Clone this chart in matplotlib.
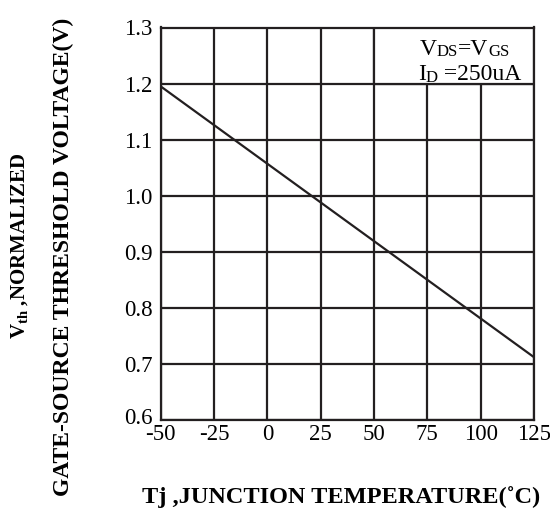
import matplotlib
matplotlib.use("Agg")
import matplotlib.pyplot as plt
from matplotlib.patches import Rectangle
from matplotlib.transforms import ScaledTranslation

plt.rcParams['font.family'] = ['Liberation Serif', 'DejaVu Serif']
plt.rcParams['mathtext.fontset'] = 'custom'
plt.rcParams['mathtext.rm'] = 'Liberation Serif'
plt.rcParams['mathtext.bf'] = 'Liberation Serif:bold'
plt.rcParams['mathtext.it'] = 'Liberation Serif:italic'

# Data
temps = [-50, 125]
vth_norm = [1.195, 0.712]
x_ticks = [-50, -25, 0, 25, 50, 75, 100, 125]
y_ticks = [0.6, 0.7, 0.8, 0.9, 1.0, 1.1, 1.2, 1.3]
y_tick_labels = ["0.6", "0.7", "0.8", "0.9", "1.0", "1.1", "1.2", "1.3"]

W, H = 550, 512
fig = plt.figure(figsize=(5.5, 5.12), dpi=100)
ax = fig.add_axes([160.7 / W, 1 - 420 / H, (534 - 160.7) / W, (420 - 27.5) / H])

col = '#231f20'
ax.plot(temps, vth_norm, color=col, lw=1.6, solid_capstyle='butt', clip_on=False, zorder=3)
ax.set_xlim(-50, 125)
ax.set_ylim(0.6, 1.3)
ax.set_xticks(x_ticks)
ax.set_xticklabels([str(t) for t in x_ticks])
ax.set_yticks(y_ticks)
ax.set_yticklabels(y_tick_labels)
ax.grid(True, color=col, lw=1.6)
ax.set_axisbelow(True)
for s in ax.spines.values():
    s.set_color(col)
    s.set_linewidth(1.6)
ax.tick_params(axis='x', length=0, labelsize=16.5, colors='black', pad=3)
ax.tick_params(axis='y', length=0, labelsize=16.5, colors='black', pad=6)

# lift the bottom y label slightly (as in the reference)
lbl = ax.get_yticklabels()[0]
lbl.set_transform(lbl.get_transform() + ScaledTranslation(0, 4 / 100, fig.dpi_scale_trans))

# legend box (white area hiding grid lines) between 50..125 and 1.2..1.3
ax.add_patch(Rectangle((50, 1.2), 75, 0.1, facecolor='white', edgecolor=col,
                       lw=1.6, zorder=2))


def chain(pieces, x_px, y_px):
    """Draw text pieces one after another starting at pixel (x_px, y_px from top)."""
    fig.canvas.draw()
    r = fig.canvas.get_renderer()
    x = x_px
    for txt, size, dy in pieces:
        t = fig.text(x / W, 1 - (y_px + dy) / H, txt, fontsize=size,
                     ha='left', va='baseline', color='black', zorder=5)
        bb = t.get_window_extent(renderer=r)
        x += bb.width


chain([('V', 17, 0), ('DS', 12, 1.5), ('=V', 17, 0), ('GS', 12, 1.5)], 420, 55)
chain([('I', 17, 0), ('D', 12, 1.5), (' =250uA', 17, 0)], 418, 80)

fig.text(20 / W, 1 - 246 / H, r'$\mathbf{V}_{\mathbf{th}}$ ,NORMALIZED', rotation=90,
         ha='center', va='center', fontsize=15, fontweight='bold')
fig.text(63 / W, 1 - 257 / H, 'GATE-SOURCE THRESHOLD VOLTAGE(V)', rotation=90,
         ha='center', va='center', fontsize=17, fontweight='bold')
fig.text(341 / W, 1 - 497 / H, 'Tj ,JUNCTION TEMPERATURE(˚C)',
         ha='center', va='center', fontsize=17.5, fontweight='bold')

fig.savefig('out.png', dpi=100)
